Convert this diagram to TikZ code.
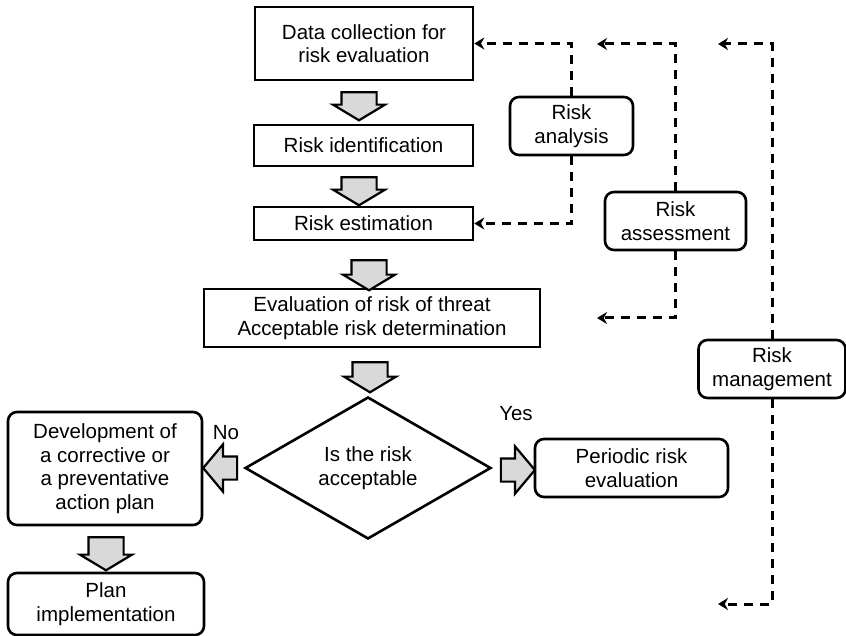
\documentclass[tikz,border=0pt]{standalone}
\usepackage{fontspec}
\setmainfont{Liberation Sans}
\usetikzlibrary{shapes.geometric,shapes.arrows,arrows.meta}
\newcommand{\txt}{\fontsize{20.5}{23.6}\selectfont}
\tikzset{
 box/.style={draw,line width=2.6pt,align=center,inner sep=0pt,font=\txt},
 rbox/.style={box,rounded corners=9pt},
 dbarrow/.style={single arrow,draw,line width=2.2pt,fill=black!15,inner xsep=0pt,inner ysep=16.5pt,
   single arrow head extend=8.5pt,single arrow tip angle=118,rotate=-90},
 hbarrow/.style={single arrow,draw,line width=2.2pt,fill=black!15,inner xsep=0pt,inner ysep=10.5pt,
   minimum height=34pt,single arrow head extend=12pt,single arrow tip angle=100},
 dashline/.style={line width=3pt,dash pattern=on 9pt off 7pt,-{Stealth[length=10pt,width=12pt]}},
}

\begin{document}
\begin{tikzpicture}[x=1pt,y=-1pt]
\useasboundingbox (0,0) rectangle (846,636);
% main chain
\node[box,minimum width=218pt,minimum height=73pt] (dc) at (364,43.5) {Data collection for\\risk evaluation};
\node[box,minimum width=219pt,minimum height=41pt] (ri) at (363.5,145.5) {Risk identification};
\node[box,minimum width=219pt,minimum height=33pt] (re) at (363.5,223.5) {Risk estimation};
\node[box,minimum width=336pt,minimum height=58pt] (ev) at (372,318) {Evaluation of risk of threat\\Acceptable risk determination};
\node[draw,diamond,line width=2.6pt,inner sep=0pt,minimum width=246pt,minimum height=142pt,align=center,font=\txt] (dm) at (368,468) {Is the risk\\acceptable};
\node[rbox,minimum width=194pt,minimum height=113pt] (dv) at (105,468.5) {Development of\\a corrective or\\a preventative\\action plan};
\node[rbox,minimum width=196pt,minimum height=62pt] (pi) at (106,604) {Plan\\implementation};
\node[rbox,minimum width=193pt,minimum height=58pt] (pr) at (631.5,468) {Periodic risk\\evaluation};
\node[font=\txt] (no) at (226,433) {No};
\node[font=\txt] (yes) at (516,414) {Yes};

% block arrows
\foreach \n/\x/\y/\l in {a1/359/101/28, a2/359/186/28, a3/369/270/30, a4/370/372/30, a5/106/548.5/33}
 \node[dbarrow,minimum height=\l pt] (\n) at (\x,\y) {};
\node[hbarrow,rotate=180] (ano) at (225,468) {};
\node[hbarrow] (ayes) at (513,470) {};

% side boxes
\node[rbox,minimum width=123pt,minimum height=58pt] (ra) at (571.5,126) {Risk\\analysis};
\node[rbox,minimum width=141pt,minimum height=58pt] (rs) at (675.5,221) {Risk\\assessment};
\node[rbox,minimum width=147pt,minimum height=58pt] (rm) at (772,369) {Risk\\management};
\coordinate (rs1) at (597,44);
\coordinate (rs2) at (597,318);
\coordinate (rm1) at (718,44);
\coordinate (rm2) at (718,604);

\draw[dashline] (ra.north) |- (dc.east);
\draw[dashline] (ra.south) |- (re.east);
\draw[dashline] (rs.north) |- (rs1);
\draw[dashline] (rs.south) |- (rs2);
\draw[dashline] (rm.north) |- (rm1);
\draw[dashline] (rm.south) |- (rm2);

\end{tikzpicture}
\end{document}
